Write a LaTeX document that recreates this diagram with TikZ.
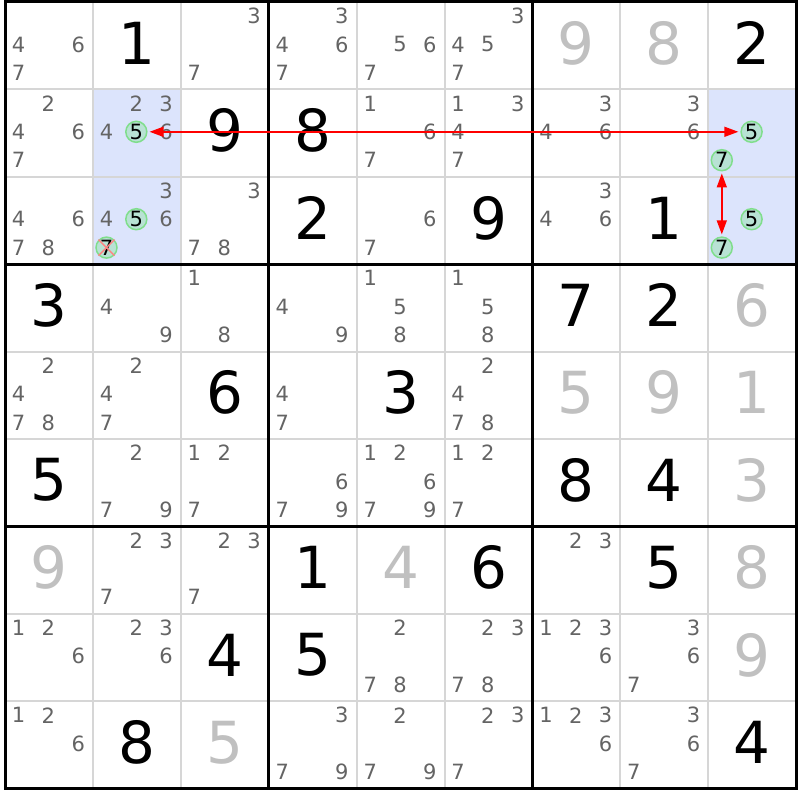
\documentclass[tikz,border=0pt]{standalone}
\usepackage{fontspec}
\setmainfont{DejaVu Sans}
\usetikzlibrary{arrows.meta}
\definecolor{candgray}{RGB}{100,100,100}
\definecolor{solvedgray}{RGB}{192,192,192}
\definecolor{gridgray}{RGB}{214,214,214}
\definecolor{hiliteblue}{RGB}{220,228,252}
\definecolor{pickfill}{RGB}{184,226,212}
\definecolor{pickline}{RGB}{128,222,140}
\definecolor{crossred}{RGB}{255,130,130}
\tikzset{given/.style = {font=\fontsize{58}{60}\selectfont, text=black, inner sep=0pt},
         solved/.style = {given, text=solvedgray},
         cand/.style = {font=\fontsize{21}{23}\selectfont, text=candgray, inner sep=0pt},
         pick/.style = {cand, text=black, circle, draw=pickline, fill=pickfill, line width=1.5pt, minimum size=21pt},
         thinline/.style = {draw=gridgray, line width=2pt},
         thickline/.style = {draw=black, line width=3pt},
         link/.style = {draw=red, line width=1.5pt, <->, >={Triangle[length=14pt,width=10pt]}, shorten <=2pt, shorten >=2pt},
         cross/.style = {draw=crossred, line width=1.5pt}}

\begin{document}
\begin{tikzpicture}[x=1pt, y=-1pt]
        \useasboundingbox[fill=white] (0,0) rectangle (800,800);

        \foreach \row/\col in {2/2,3/2,2/9,3/9}
            \fill[hiliteblue] ({5+(\col-1)*87.9},{2+(\row-1)*87.4}) rectangle ++(87.9,87.4);

        \foreach \i in {1,2,4,5,7,8} {
            \draw[thinline] ({5+\i*87.9},2) -- ({5+\i*87.9},788.6);
            \draw[thinline] (5,{2+\i*87.4}) -- (796.1,{2+\i*87.4});
        }
        \foreach \i in {3,6} {
            \draw[thickline] ({5+\i*87.9},2) -- ({5+\i*87.9},788.6);
            \draw[thickline] (5,{2+\i*87.4}) -- (796.1,{2+\i*87.4});
        }
        \draw[thickline] (5,2) rectangle (796.1,788.6);

        \foreach \row/\col/\d in {1/2/1, 1/9/2, 2/3/9, 2/4/8, 3/4/2, 3/6/9, 3/8/1, 4/1/3, 4/7/7, 4/8/2, 5/3/6,
                                  5/5/3, 6/1/5, 6/7/8, 6/8/4, 7/4/1, 7/6/6, 7/8/5, 8/3/4, 8/4/5, 9/2/8, 9/9/4}
            \node [given] (g\row\col) at ({5+(\col-0.5)*87.9},{2+(\row-0.5)*87.4-2.5}) {\d};

        \foreach \row/\col/\d in {1/7/9, 1/8/8, 4/9/6, 5/7/5, 5/8/9, 5/9/1, 6/9/3, 7/1/9, 7/5/4, 7/9/8, 8/9/9, 9/3/5}
            \node [solved] (s\row\col) at ({5+(\col-0.5)*87.9},{2+(\row-0.5)*87.4-2.5}) {\d};

        \foreach \row/\col/\ds in {1/1/{4,6,7}, 1/3/{3,7}, 1/4/{3,4,6,7}, 1/5/{5,6,7}, 1/6/{3,4,5,7},
                                   2/1/{2,4,6,7}, 2/2/{2,3,4,6}, 2/5/{1,6,7}, 2/6/{1,3,4,7}, 2/7/{3,4,6}, 2/8/{3,6},
                                   3/1/{4,6,7,8}, 3/2/{3,4,6}, 3/3/{3,7,8}, 3/5/{6,7}, 3/7/{3,4,6},
                                   4/2/{4,9}, 4/3/{1,8}, 4/4/{4,9}, 4/5/{1,5,8}, 4/6/{1,5,8},
                                   5/1/{2,4,7,8}, 5/2/{2,4,7}, 5/4/{4,7}, 5/6/{2,4,7,8},
                                   6/2/{2,7,9}, 6/3/{1,2,7}, 6/4/{6,7,9}, 6/5/{1,2,6,7,9}, 6/6/{1,2,7},
                                   7/2/{2,3,7}, 7/3/{2,3,7}, 7/7/{2,3},
                                   8/1/{1,2,6}, 8/2/{2,3,6}, 8/5/{2,7,8}, 8/6/{2,3,7,8}, 8/7/{1,2,3,6}, 8/8/{3,6,7},
                                   9/1/{1,2,6}, 9/4/{3,7,9}, 9/5/{2,7,9}, 9/6/{2,3,7}, 9/7/{1,2,3,6}, 9/8/{3,6,7}}
            \foreach \d in \ds {
                \pgfmathsetmacro\candx{5+(\col-1)*87.9+13.6+29.8*mod(\d-1,3)}
                \pgfmathsetmacro\candy{2+(\row-1)*87.4+14+28.4*int((\d-1)/3)}
                \node [cand] (c\row\col\d) at (\candx,\candy) {\d};
            }

        \foreach \row/\col/\d in {2/2/5, 3/2/5, 3/2/7, 2/9/5, 2/9/7, 3/9/5, 3/9/7} {
            \pgfmathsetmacro\candx{5+(\col-1)*87.9+13.6+29.8*mod(\d-1,3)}
            \pgfmathsetmacro\candy{2+(\row-1)*87.4+14+28.4*int((\d-1)/3)}
            \node [pick] (p\row\col\d) at (\candx,\candy) {\d};
        }

        \draw[cross] (p327.135) -- (p327.-45) (p327.45) -- (p327.-135);

        \draw[link] (p225) -- (p295);
        \draw[link] (p297) -- (p397);
\end{tikzpicture}
\end{document}
